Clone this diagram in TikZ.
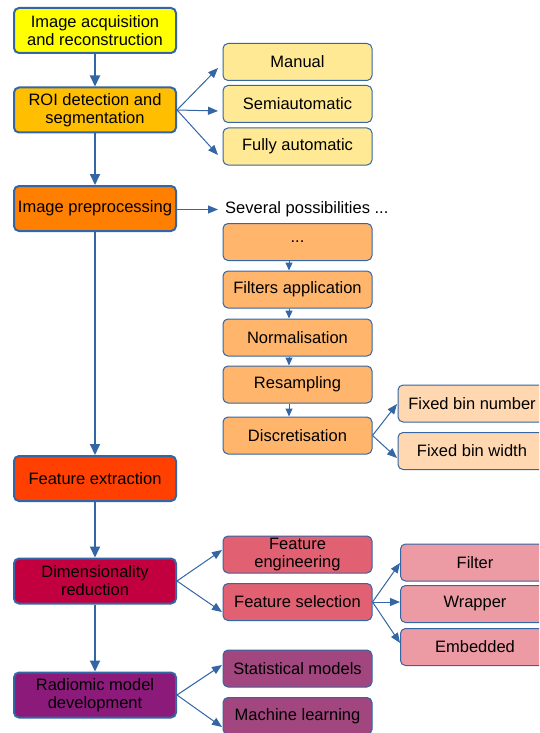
\documentclass[tikz,border=0pt]{standalone}
\usepackage{fontspec}
\setmainfont{Liberation Sans}
\usetikzlibrary{arrows.meta}
\definecolor{bord}{HTML}{3465A4}
\definecolor{cyel}{HTML}{FFFF00}
\definecolor{cgold}{HTML}{FFBF00}
\definecolor{cgoldl}{HTML}{FFE994}
\definecolor{corange}{HTML}{FF8000}
\definecolor{corangel}{HTML}{FFB66C}
\definecolor{corangell}{HTML}{FFD8B2}
\definecolor{cbrick}{HTML}{FF4000}
\definecolor{cmag}{HTML}{C2003F}
\definecolor{cmagl}{HTML}{E16173}
\definecolor{cmagll}{HTML}{EC9BA4}
\definecolor{cpur}{HTML}{8B1A7A}
\definecolor{cpurl}{HTML}{A1467E}
\tikzset{
  mainbox/.style={draw=bord, line width=2pt, rounded corners=5pt, minimum width=162pt, minimum height=45pt, align=center, inner sep=0pt, font=\fontsize{16.5}{18}\selectfont},
  subbox/.style={draw=bord, line width=1pt, rounded corners=5pt, minimum width=149pt, minimum height=37pt, align=center, inner sep=0pt, font=\fontsize{16.5}{18}\selectfont},
  thickarr/.style={draw=bord, line width=2pt, -{Triangle[length=11pt,width=10pt]}},
  thinarr/.style={draw=bord, line width=1pt, -{Triangle[length=10pt,width=8pt]}},
  smallarr/.style={draw=bord, line width=1pt, -{Triangle[length=8pt,width=7pt]}}
}
\begin{document}
\begin{tikzpicture}[x=1pt,y=-1pt]
\useasboundingbox (0,0) rectangle (539,733);
\clip (0,0) rectangle (539,733);
% main column
\node[mainbox, fill=cyel] (m1) at (95,30.5) {Image acquisition\\and reconstruction};
\node[mainbox, fill=cgold] (m2) at (95,110) {ROI detection and\\segmentation};
\node[mainbox, fill=corange] (m3) at (95,208.5) {Image preprocessing};
\node[mainbox, fill=cbrick] (m4) at (95,478.5) {Feature extraction};
\node[mainbox, fill=cmag] (m5) at (95,581) {Dimensionality\\reduction};
\node[mainbox, fill=cpur] (m6) at (95,695) {Radiomic model\\development};
\draw[thickarr] (m1) -- (m2);
\draw[thickarr] (m2) -- (m3);
\draw[thickarr] (m3) -- (m4);
\draw[thickarr] (m4) -- (m5);
\draw[thickarr] (m5) -- (m6);
% ROI subs
\node[subbox, fill=cgoldl] (r1) at (297.5,62) {Manual};
\node[subbox, fill=cgoldl] (r2) at (297.5,104) {Semiautomatic};
\node[subbox, fill=cgoldl] (r3) at (297.5,146.5) {Fully automatic};
\coordinate (r1e) at (218,68);
\coordinate (r2e) at (218,111);
\coordinate (r3e) at (218,155);
\draw[thinarr] (m2.east) -- (r1e);
\draw[thinarr] (m2.east) -- (r2e);
\draw[thinarr] (m2.east) -- (r3e);
% preprocessing subs
\node[anchor=west, inner sep=0pt, font=\fontsize{16.5}{18}\selectfont] (sp) at (225,209.5) {Several possibilities ...};
\coordinate (spe) at (218,209.5);
\draw[thinarr] (m3.east |- spe) -- (spe);
\node[subbox, fill=corangel] (p0) at (297.5,242) {...};
\node[subbox, fill=corangel] (p1) at (297.5,289.5) {Filters application};
\node[subbox, fill=corangel] (p2) at (297.5,337.5) {Normalisation};
\node[subbox, fill=corangel] (p3) at (297.5,384.5) {Resampling};
\node[subbox, fill=corangel] (p4) at (297.5,435.5) {Discretisation};
\draw[smallarr] (p0.south -| 289,0) -- (p1.north -| 289,0);
\draw[smallarr] (p1.south -| 289,0) -- (p2.north -| 289,0);
\draw[smallarr] (p2.south -| 289,0) -- (p3.north -| 289,0);
\draw[smallarr] (p3.south -| 289,0) -- (p4.north -| 289,0);
\node[subbox, fill=corangell, minimum width=148pt] (d1) at (472,403.5) {Fixed bin number};
\node[subbox, fill=corangell, minimum width=148pt] (d2) at (472,451) {Fixed bin width};
\coordinate (d1e) at (397,404);
\coordinate (d2e) at (397,458);
\draw[thinarr] (p4.east) -- (d1e);
\draw[thinarr] (p4.east) -- (d2e);
% dimensionality subs
\node[subbox, fill=cmagl] (f1) at (297.5,554.5) {Feature\\engineering};
\node[subbox, fill=cmagl] (f2) at (297.5,602) {Feature selection};
\coordinate (f1e) at (222,550);
\coordinate (f2e) at (222,612);
\draw[thinarr] (m5.east) -- (f1e);
\draw[thinarr] (m5.east) -- (f2e);
\node[subbox, fill=cmagll] (s1) at (475,562.5) {Filter};
\node[subbox, fill=cmagll] (s2) at (475,604) {Wrapper};
\node[subbox, fill=cmagll] (s3) at (475,647) {Embedded};
\coordinate (s1e) at (400,563);
\coordinate (s2e) at (400,602);
\coordinate (s3e) at (400,643);
\draw[thinarr] (f2.east) -- (s1e);
\draw[thinarr] (f2.east) -- (s2e);
\draw[thinarr] (f2.east) -- (s3e);
% model subs
\node[subbox, fill=cpurl] (g1) at (297.5,668.5) {Statistical models};
\node[subbox, fill=cpurl] (g2) at (297.5,716) {Machine learning};
\coordinate (g1e) at (222,665);
\coordinate (g2e) at (222,727);
\draw[thinarr] (m6.east) -- (g1e);
\draw[thinarr] (m6.east) -- (g2e);
\end{tikzpicture}
\end{document}
